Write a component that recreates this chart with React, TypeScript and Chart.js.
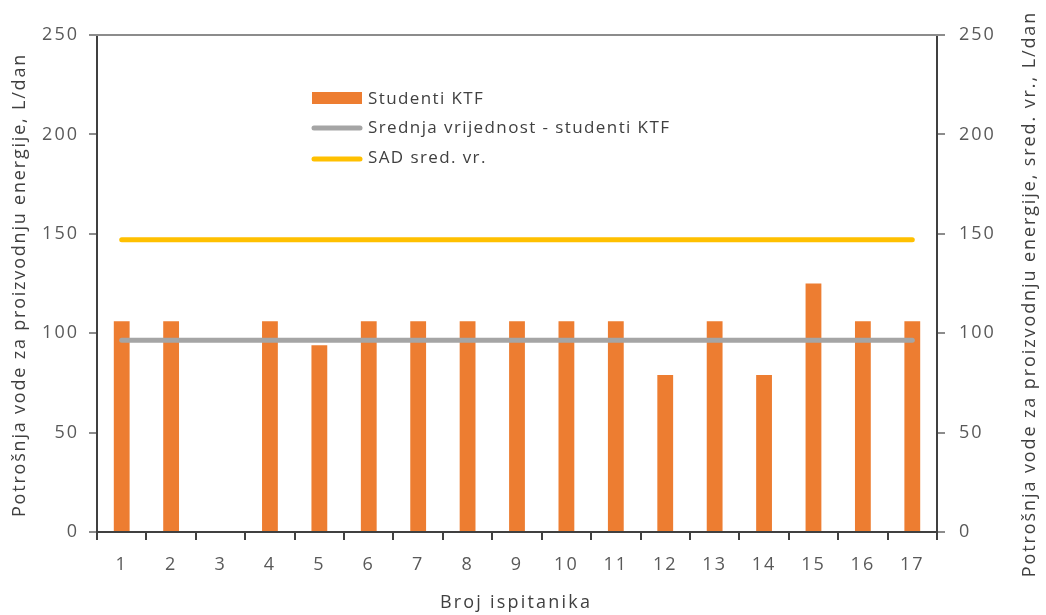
import React, { useEffect, useRef } from "react";
import { Chart, registerables } from "chart.js";

Chart.register(...registerables);

const categories = ["1", "2", "3", "4", "5", "6", "7", "8", "9", "10", "11", "12", "13", "14", "15", "16", "17"];
const studentiKTF = [106, 106, 0, 106, 94, 106, 106, 106, 106, 106, 106, 79, 106, 79, 125, 106, 106];
const srednjaVrijednost = 96.4;
const sadSredVr = 147;
const yTicks = [0, 50, 100, 150, 200, 250];

const labelBars = "Studenti KTF";
const labelMean = "Srednja vrijednost - studenti KTF";
const labelSad = "SAD sred. vr.";
const titleX = "Broj ispitanika";
const titleYLeft = "Potrošnja vode za proizvodnju energije, L/dan";
const titleYRight = "Potrošnja vode za proizvodnju energije, sred. vr., L/dan";

const FONT = "'Open Sans', 'Noto Sans', sans-serif";
const ORANGE = "#ED7D31";
const GRAY = "#A5A5A5";
const YELLOW = "#FFC000";
const AXIS = "#404040";
const TICKTXT = "#595959";

const overlayPlugin = {
  id: "overlay",
  beforeDraw(chart: any) {
    (chart.ctx as any).letterSpacing = "2px";
  },
  afterDraw(chart: any) {
    const ctx = chart.ctx as any;
    const a = chart.chartArea;
    ctx.save();
    // top border
    ctx.strokeStyle = "#8c8c8c";
    ctx.lineWidth = 2;
    ctx.beginPath();
    ctx.moveTo(a.left - 8, a.top);
    ctx.lineTo(a.right + 8, a.top);
    ctx.stroke();

    // legend
    ctx.letterSpacing = "1.4px";
    ctx.font = `17px ${FONT}`;
    ctx.textBaseline = "middle";
    ctx.textAlign = "left";
    ctx.fillStyle = ORANGE;
    ctx.fillRect(312, 92, 50, 12);
    ctx.fillStyle = AXIS;
    ctx.fillText(labelBars, 368, 99);
    ctx.lineCap = "round";
    ctx.lineWidth = 5;
    ctx.strokeStyle = GRAY;
    ctx.beginPath();
    ctx.moveTo(314, 128);
    ctx.lineTo(360, 128);
    ctx.stroke();
    ctx.fillText(labelMean, 368, 128);
    ctx.strokeStyle = YELLOW;
    ctx.beginPath();
    ctx.moveTo(314, 159);
    ctx.lineTo(360, 159);
    ctx.stroke();
    ctx.fillText(labelSad, 368, 158);

    // axis titles
    ctx.font = `18px ${FONT}`;
    ctx.fillStyle = AXIS;
    ctx.textAlign = "center";
    ctx.letterSpacing = "2.2px";
    ctx.fillText(titleX, 516, 603);
    ctx.letterSpacing = "1.8px";
    ctx.save();
    ctx.translate(20, 285);
    ctx.rotate(-Math.PI / 2);
    ctx.fillText(titleYLeft, 0, 0);
    ctx.restore();
    ctx.letterSpacing = "1.9px";
    ctx.save();
    ctx.translate(1030, 294);
    ctx.rotate(-Math.PI / 2);
    ctx.fillText(titleYRight, 0, 0);
    ctx.restore();
    ctx.restore();
    ctx.letterSpacing = "0px";
  },
};

export default function App() {
  const ref = useRef<HTMLCanvasElement>(null);
  useEffect(() => {
    if (!ref.current) return;
    const yScale = (pos: "left" | "right", width: number) => ({
      type: "linear" as const,
      position: pos,
      min: 0,
      max: 250,
      afterBuildTicks: (s: any) => {
        s.ticks = yTicks.map((v) => ({ value: v }));
      },
      afterFit: (s: any) => {
        s.width = width;
      },
      border: { display: true, color: AXIS, width: 2 },
      grid: {
        display: true,
        drawOnChartArea: false,
        drawTicks: true,
        tickLength: 8,
        color: "#8c8c8c",
        lineWidth: 2,
      },
      ticks: {
        color: TICKTXT,
        font: { family: FONT, size: 18 },
        padding: pos === "left" ? 10 : 14,
      },
    });
    const chart = new Chart(ref.current, {
      type: "bar",
      data: {
        labels: categories,
        datasets: [
          {
            type: "line",
            label: labelSad,
            data: categories.map(() => sadSredVr),
            borderColor: YELLOW,
            borderWidth: 5,
            borderCapStyle: "round",
            pointRadius: 0,
            yAxisID: "y1",
            order: 0,
          },
          {
            type: "line",
            label: labelMean,
            data: categories.map(() => srednjaVrijednost),
            borderColor: GRAY,
            borderWidth: 5,
            borderCapStyle: "round",
            pointRadius: 0,
            yAxisID: "y1",
            order: 1,
          },
          {
            type: "bar",
            label: labelBars,
            data: studentiKTF,
            backgroundColor: ORANGE,
            borderWidth: 0,
            barPercentage: 0.32,
            categoryPercentage: 1,
            yAxisID: "y",
            order: 2,
          },
        ],
      },
      options: {
        responsive: false,
        animation: false,
        layout: { padding: { top: 35, left: 0, right: 0, bottom: 0 } },
        plugins: {
          legend: { display: false },
          tooltip: { enabled: false },
        },
        scales: {
          x: {
            type: "category",
            afterFit: (s: any) => {
              s.height = 83;
            },
            border: { display: true, color: AXIS, width: 2 },
            grid: {
              display: true,
              offset: true,
              drawOnChartArea: false,
              drawTicks: true,
              tickLength: 8,
              color: AXIS,
              lineWidth: 2,
            },
            ticks: {
              color: TICKTXT,
              font: { family: FONT, size: 18 },
              padding: 14,
              maxRotation: 0,
            },
          },
          y: yScale("left", 97),
          y1: yScale("right", 109),
        },
      },
      plugins: [overlayPlugin],
    } as any);
    return () => chart.destroy();
  }, []);
  return (
    <div style={{ position: "absolute", left: 0, top: 0, width: 1046, height: 615, background: "#fff" }}>
      <canvas ref={ref} width={1046} height={615} style={{ display: "block" }} />
    </div>
  );
}
